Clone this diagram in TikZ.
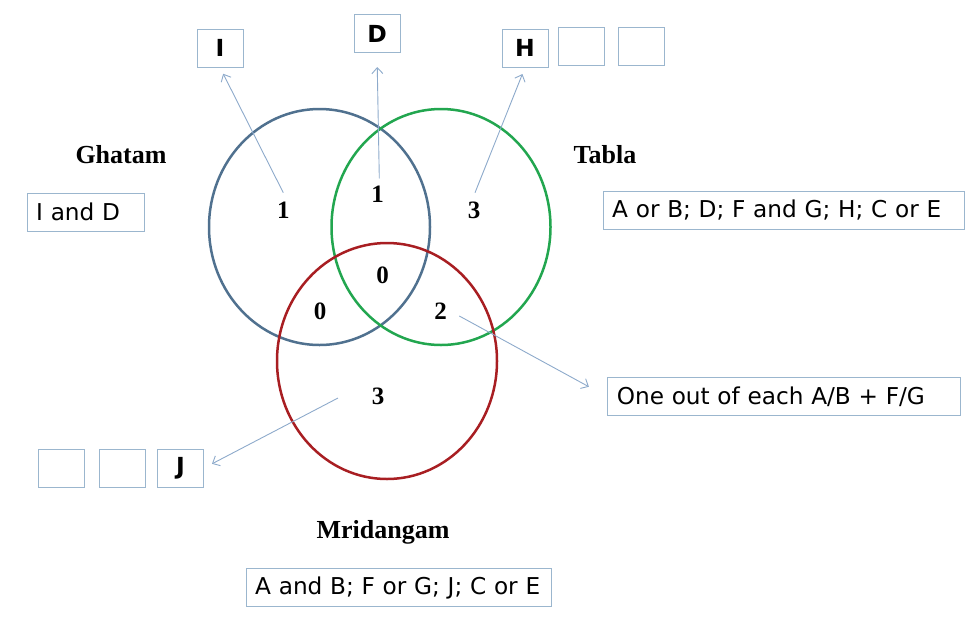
\documentclass[tikz,border=0pt]{standalone}
\usepackage{fontspec}
\setmainfont{Liberation Serif}
\newfontfamily\dv{DejaVu Sans}
\usetikzlibrary{arrows.meta}
\definecolor{cblue}{HTML}{50718F}
\definecolor{cgreen}{HTML}{22A64F}
\definecolor{cred}{HTML}{A81E22}
\definecolor{carrow}{HTML}{8DAACB}
\definecolor{cbox}{HTML}{9BB6CE}
\tikzset{
  ring/.style={line width=2.5pt},
  setlabel/.style={font=\fontsize{26}{29}\selectfont\bfseries},
  num/.style={font=\fontsize{25}{28}\selectfont\bfseries},
  tbox/.style={draw=cbox, line width=1pt, inner xsep=9pt, inner ysep=0pt, minimum height=38pt, align=left, anchor=north west, font=\dv\fontsize{23.2}{26}\selectfont},
  lbox/.style={draw=cbox, line width=1pt, inner sep=0pt, minimum width=46pt, minimum height=38pt, font=\dv\fontsize{23.5}{26}\selectfont\bfseries},
  arr/.style={draw=carrow, line width=0.9pt, -{Straight Barb[length=6pt,width=11pt]}}
}
\begin{document}
\begin{tikzpicture}[x=1pt,y=-1pt]
\useasboundingbox (0,0) rectangle (980,625);
% circles
\draw[ring, cblue] (319.5,227) ellipse [x radius=110.5pt, y radius=118pt];
\draw[ring, cgreen] (441,227) ellipse [x radius=109.5pt, y radius=118pt];
\draw[ring, cred] (387,361) ellipse [x radius=110pt, y radius=118pt];
% set labels
\node[setlabel] (ghatam) at (121,155) {Ghatam};
\node[setlabel] (tabla) at (605,155) {Tabla};
\node[setlabel] (mrid) at (383,532) {Mridangam};
% description boxes
\node[tbox, text width=99.6pt] (gbox) at (26.7,192.7) {I and D};
\node[tbox, text width=343pt] (tbox1) at (602.7,191) {A or B; D; F and G; H; C or E};
\node[tbox, text width=334.7pt] (obox) at (607.3,377.3) {One out of each A/B + F/G};
\node[tbox, text width=287pt] (mbox) at (245.7,568) {A and B; F or G; J; C or E};
% letter boxes
\node[lbox] (Ibox) at (220,48) {I};
\node[lbox] (Dbox) at (377,33.5) {D};
\node[lbox] (Hbox) at (525,48) {H};
\node[lbox] (H2) at (581.5,46) {};
\node[lbox] (H3) at (641,46) {};
\node[lbox] (J1) at (61,468) {};
\node[lbox] (J2) at (122.5,468) {};
\node[lbox] (Jbox) at (180.5,468) {J};
% region numbers
\node[num] (nG) at (283.3,210) {1};
\node[num] (nGT) at (377.7,194) {1};
\node[num] (nT) at (474,210) {3};
\node[num] (nAll) at (382.7,275) {0};
\node[num] (nGM) at (320,311) {0};
\node[num] (nTM) at (440.7,311) {2};
\node[num] (nM) at (378,396) {3};
% arrow start points
\coordinate (sG) at (283.3,192.7);
\coordinate (sGT) at (379.3,178.3);
\coordinate (sT) at (475,192.7);
\coordinate (sTM) at (459.3,316);
\coordinate (sM) at (338,398);
% arrows
\draw[arr, shorten >=7pt] (sG) -- (Ibox.south);
\draw[arr, shorten >=14pt] (sGT) -- (Dbox.south);
\draw[arr, shorten >=7pt] (sT) -- (Hbox.south);
\draw[arr, shorten >=21pt] (sTM) -- (obox.west);
\draw[arr, shorten >=9pt] (sM) -- (Jbox.east);
\end{tikzpicture}
\end{document}
